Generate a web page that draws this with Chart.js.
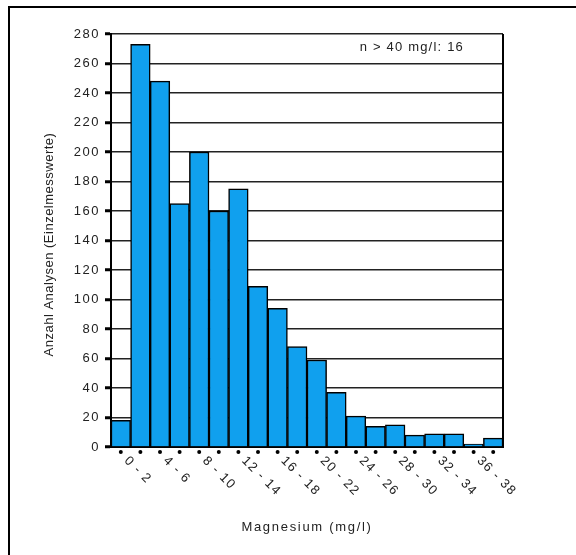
<!DOCTYPE html>
<html>
<head>
<meta charset="utf-8">
<title>Magnesium</title>
<script src="https://cdn.jsdelivr.net/npm/chart.js@4.4.0/dist/chart.umd.min.js"></script>
<style>
  html, body { margin: 0; padding: 0; background: #fff; }
  #wrap { width: 576px; height: 555px; }
</style>
</head>
<body>
<div id="wrap"><canvas id="histo" width="576" height="555"></canvas></div>
<script>
// Klassen (mg/l) und Anzahl der Einzelmesswerte je Klasse
const klassen = ['0 - 2', '2 - 4', '4 - 6', '6 - 8', '8 - 10', '10 - 12', '12 - 14', '14 - 16', '16 - 18', '18 - 20',
                 '20 - 22', '22 - 24', '24 - 26', '26 - 28', '28 - 30', '30 - 32', '32 - 34', '34 - 36', '36 - 38', '38 - 40'];
const anzahl = [18, 273, 248, 165, 200, 160, 175, 109, 94, 68, 59, 37, 21, 14, 15, 8, 9, 9, 2, 6];
const yMin = 0;
const yMax = 280;
const yStep = 20;
const hinweis = 'n > 40 mg/l: 16';
const xTitel = 'Magnesium (mg/l)';
const yTitel = 'Anzahl Analysen (Einzelmesswerte)';

const schrift = 'Liberation Sans, Arial, sans-serif';

// Rahmen, Achsentitel, Klassenbeschriftung und Hinweistext
const extras = {
    id: 'extras',
    beforeDraw(chart) {
        chart.ctx.letterSpacing = '1.5px';
    },
    afterDraw(chart) {
        const ctx = chart.ctx;
        const area = chart.chartArea;
        const x = chart.scales.x;

        ctx.save();
        ctx.fillStyle = '#000';
        ctx.strokeStyle = '#000';

        // rechter Rand der Zeichenfläche
        ctx.lineWidth = 2;
        ctx.beginPath();
        ctx.moveTo(area.right, area.top);
        ctx.lineTo(area.right, area.bottom);
        ctx.stroke();

        // Punkte unter jeder Klasse
        klassen.forEach((k, i) => {
            const px = x.getPixelForValue(i);
            ctx.beginPath();
            ctx.arc(px, area.bottom + 5, 2, 0, Math.PI * 2);
            ctx.fill();
        });

        // schräge Klassenbeschriftung, jede zweite
        ctx.font = '13px ' + schrift;
        ctx.fillStyle = '#222';
        ctx.letterSpacing = '1.3px';
        ctx.textAlign = 'left';
        ctx.textBaseline = 'top';
        klassen.forEach((k, i) => {
            if (i % 2 !== 0) return;
            const px = x.getPixelForValue(i);
            ctx.save();
            ctx.translate(px + 10, area.bottom + 7);
            ctx.rotate(Math.PI / 4);
            ctx.fillText(k, 0, 0);
            ctx.restore();
        });

        // x-Achsentitel
        ctx.letterSpacing = '1.7px';
        ctx.textAlign = 'center';
        ctx.textBaseline = 'middle';
        ctx.fillText(xTitel, (area.left + area.right) / 2, 527);

        // y-Achsentitel
        ctx.save();
        ctx.letterSpacing = '0.5px';
        ctx.translate(49, (area.top + area.bottom) / 2 + 4);
        ctx.rotate(-Math.PI / 2);
        ctx.fillText(yTitel, 0, 0);
        ctx.restore();

        // Hinweis oben rechts
        ctx.letterSpacing = '1.2px';
        ctx.textAlign = 'right';
        ctx.fillText(hinweis, area.right - 39, 47);

        // Rahmen links und oben
        ctx.lineWidth = 2;
        ctx.beginPath();
        ctx.moveTo(9, 555);
        ctx.lineTo(9, 7);
        ctx.lineTo(576, 7);
        ctx.stroke();
        ctx.restore();
    }
};

new Chart(document.getElementById('histo'), {
    type: 'bar',
    data: {
        labels: klassen,
        datasets: [{
            data: anzahl,
            backgroundColor: '#10a0ee',
            borderColor: '#000',
            borderWidth: 1.5,
            barPercentage: 1,
            categoryPercentage: 1
        }]
    },
    options: {
        responsive: false,
        animation: false,
        devicePixelRatio: 1,
        layout: { padding: { left: 0, right: 73, top: 34, bottom: 0 } },
        plugins: {
            legend: { display: false },
            tooltip: { enabled: false }
        },
        scales: {
            x: {
                offset: true,
                grid: { display: false },
                border: { display: true, color: '#000', width: 2 },
                ticks: { display: false },
                afterFit(scale) { scale.height = 108; }
            },
            y: {
                min: yMin,
                max: yMax,
                ticks: {
                    stepSize: yStep,
                    color: '#222',
                    padding: 5,
                    font: { family: schrift, size: 13 }
                },
                grid: {
                    color: '#222',
                    lineWidth: 1.5,
                    tickLength: 6,
                    tickWidth: 3,
                    tickColor: '#000'
                },
                border: { display: true, color: '#000', width: 2 },
                title: { display: false },
                afterFit(scale) { scale.width = 111; }
            }
        }
    },
    plugins: [extras]
});
</script>
</body>
</html>
